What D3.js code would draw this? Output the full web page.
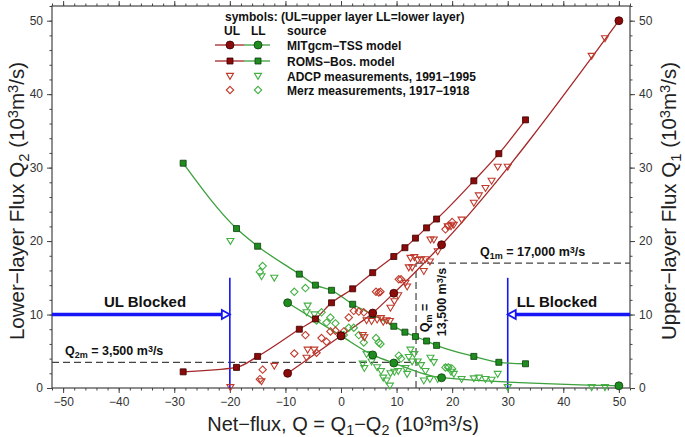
<!DOCTYPE html>
<html><head><meta charset="utf-8">
<script src="https://cdn.jsdelivr.net/npm/d3@7"></script>
<style>html,body{margin:0;padding:0;background:#fff;}svg{display:block;font-family:"Liberation Sans",Arial,Helvetica,sans-serif;}</style>
</head><body><svg id="c" width="685" height="437"></svg>
<script>
// ---------------- DATA ----------------
const xTicks = [-50,-40,-30,-20,-10,0,10,20,30,40,50];
const yTicks = [0,10,20,30,40,50];

// MITgcm-TSS model
const mitX  = [-9.6, 0.0, 5.7, 9.5, 18.1, 50.0];
const mitUL = [2.0, 7.1, 10.2, 12.9, 19.5, 50.0];
const mitLL = [11.6, 7.1, 4.5, 3.4, 1.4, 0.3];

// ROMS-Bos. model
const romsX  = [-28.4, -18.8, -15.0, -7.5, -4.6, -1.7, 2.1, 5.7, 9.5, 11.5, 13.4, 15.4, 17.2, 23.9, 28.4, 33.2];
const romsUL = [2.2, 2.8, 4.3, 8.0, 9.4, 11.6, 13.5, 15.7, 17.9, 19.1, 20.4, 21.8, 23.0, 28.2, 31.9, 36.5];
const romsLL = [30.6, 21.7, 19.3, 15.5, 14.0, 13.3, 11.4, 10.0, 8.4, 7.6, 7.0, 6.4, 5.8, 4.3, 3.5, 3.3];

// ADCP measurements, 1991-1995
const adcpX  = [-19.9,-14.3,-12.0,-6.0,-4.8,-6.2,3.9,4.2,4.6,5.5,6.5,7.6,8.2,8.8,8.9,11.6,11.9,12.2,12.8,12.5,13.2,13.8,14.4,15.2,16.0,16.1,16.7,19.2,19.8,20.3,21.7,23.9,26.0,27.1,28.2,30.0,45.1,47.5,7.2,9.6,10.3,14.9,17.4,24.8];
const adcpUL = [0.1,0.9,3.0,5.2,5.2,4.1,7.2,6.9,9.2,9.1,9.3,9.0,9.2,9.1,10.9,14.3,13.8,16.4,16.4,17.7,17.8,17.4,17.5,17.5,17.2,20.2,20.2,22.0,22.0,22.2,22.9,25.2,27.2,28.2,30.1,30.1,45.2,47.6,9.5,11.8,12.6,15.9,18.6,26.2];
const adcpLL = [20.0,15.2,15.0,11.2,10.0,10.3,3.3,2.7,4.6,3.6,2.8,1.4,1.0,0.3,2.0,2.7,1.9,4.2,3.6,5.2,4.6,3.6,3.1,2.3,1.2,4.1,3.5,2.8,2.2,1.9,1.2,1.3,1.2,1.1,1.9,0.1,0.1,0.1,2.3,2.2,2.3,1.0,1.2,1.4];

// Merz measurements, 1917-1918
const merzX  = [-14.1,-14.6,-8.4,-6.4,-4.4,-3.5,-1.9,-1.0,0.5,2.3,3.2,4.1,6.3,6.8,7.1,10.4,10.8,18.8,19.3,20.0,-2.6,1.4];
const merzUL = [2.5,1.2,4.7,7.2,4.8,6.8,7.7,7.8,7.7,10.5,10.4,10.3,13.1,13.0,13.1,14.8,14.8,21.6,22.1,22.6,6.3,9.6];
const merzLL = [16.6,15.8,13.1,13.6,9.2,10.3,9.6,8.8,7.2,8.2,7.2,6.2,6.8,6.2,6.0,4.4,4.0,2.8,2.8,2.6,8.9,8.2];

// annotation values
const q2m = 3.5, q1m = 17.0, qm = 13.5, ulBlock = -20, llBlock = 30, blockLevel = 10, blockTop = 15;

// ---------------- CHART ----------------
const W = 685, H = 437;
const m = {l:52, r:55, t:6, b:49};
const svg = d3.select("#c");
const x = d3.scaleLinear().domain([-52, 52]).range([m.l, W - m.r]);
const y = d3.scaleLinear().domain([0, 52]).range([H - m.b, m.t]);

const RED = "#8b0a0a", REDL = "#a5282a", REDO = "#c0392b";
const GRN = "#1e8c1e", GRNL = "#3ca03c", GRNO = "#44b044";
const BLUE = "#1515f5";
const AX = "#444";

function rich(sel, parts) {
  parts.forEach(p => {
    const t = sel.append("tspan").text(p[0]);
    if (p[1] === "sub") t.attr("baseline-shift", "-30%").attr("font-size", "72%");
    else if (p[1] === "sup") t.attr("baseline-shift", "38%").attr("font-size", "72%");
  });
  return sel;
}

// axes (ticks outside)
const minorX = d3.range(-52, 53, 2), minorY = d3.range(0, 53, 2);
function axis(gen, ticks, minor, label, pos) {
  const gMaj = svg.append("g").attr("transform", pos)
    .call(gen.tickValues(ticks).tickSize(5).tickSizeOuter(0).tickPadding(4).tickFormat(label ? d3.format("") : ""));
  gMaj.select(".domain").remove();
  gMaj.selectAll("line").attr("stroke", AX);
  gMaj.selectAll("text").attr("font-size", 12).attr("fill", "#333").attr("font-family", "Liberation Sans, Arial, sans-serif");
  const gMin = svg.append("g").attr("transform", pos)
    .call(gen.tickValues(minor).tickSize(2.5).tickSizeOuter(0).tickFormat(""));
  gMin.select(".domain").remove();
  gMin.selectAll("line").attr("stroke", AX);
}
axis(d3.axisBottom(x), xTicks, minorX, true, `translate(0,${H - m.b})`);
axis(d3.axisTop(x), xTicks, minorX, false, `translate(0,${m.t})`);
axis(d3.axisLeft(y), yTicks, minorY, true, `translate(${m.l},0)`);
axis(d3.axisRight(y), yTicks, minorY, true, `translate(${W - m.r},0)`);
svg.append("rect").attr("x", m.l).attr("y", m.t).attr("width", W - m.l - m.r).attr("height", H - m.t - m.b)
  .attr("fill", "none").attr("stroke", AX).attr("stroke-width", 1.2);

// axis titles
rich(svg.append("text").attr("x", (m.l + W - m.r) / 2 + 2).attr("y", 431).attr("text-anchor", "middle")
  .attr("font-size", 20).attr("fill", "#222"),
  [["Net−flux, Q = Q"], ["1","sub"], ["−Q"], ["2","sub"], [" (10"], ["3","sup"], ["m"], ["3","sup"], ["/s)"]]);
rich(svg.append("text").attr("transform", `translate(24,${(m.t + H - m.b) / 2 + 4}) rotate(-90)`).attr("text-anchor", "middle")
  .attr("font-size", 20.5).attr("fill", "#222"),
  [["Lower−layer Flux Q"], ["2","sub"], [" (10"], ["3","sup"], ["m"], ["3","sup"], ["/s)"]]);
rich(svg.append("text").attr("transform", `translate(676,${(m.t + H - m.b) / 2 + 4}) rotate(-90)`).attr("text-anchor", "middle")
  .attr("font-size", 20.5).attr("fill", "#222"),
  [["Upper−layer Flux Q"], ["1","sub"], [" (10"], ["3","sup"], ["m"], ["3","sup"], ["/s)"]]);

// annotation dashed lines
const dash = "7,4";
svg.append("line").attr("x1", x(-52)).attr("x2", x(qm)).attr("y1", y(q2m)).attr("y2", y(q2m))
  .attr("stroke", "#444").attr("stroke-width", 1.2).attr("stroke-dasharray", dash);
svg.append("line").attr("x1", x(qm)).attr("x2", x(52)).attr("y1", y(q1m)).attr("y2", y(q1m))
  .attr("stroke", "#444").attr("stroke-width", 1.2).attr("stroke-dasharray", dash);
svg.append("line").attr("x1", x(qm)).attr("x2", x(qm)).attr("y1", y(0)).attr("y2", y(q1m))
  .attr("stroke", "#444").attr("stroke-width", 1.2).attr("stroke-dasharray", dash);

// blocked arrows
function block(xv, dir, label, lx) {
  svg.append("line").attr("x1", x(xv)).attr("x2", x(xv)).attr("y1", y(0)).attr("y2", y(blockTop))
    .attr("stroke", BLUE).attr("stroke-width", 1.6);
  const x0 = dir > 0 ? x(-52) : x(52);
  const tip = x(xv);
  svg.append("line").attr("x1", x0).attr("x2", tip - dir * 6).attr("y1", y(blockLevel)).attr("y2", y(blockLevel))
    .attr("stroke", BLUE).attr("stroke-width", 3.5);
  const yy = y(blockLevel);
  svg.append("path").attr("d", `M${tip},${yy} L${tip - dir * 8},${yy - 4.5} L${tip - dir * 8},${yy + 4.5} Z`)
    .attr("fill", "#fff").attr("stroke", BLUE).attr("stroke-width", 1.8);
  svg.append("text").attr("x", lx).attr("y", 307).attr("font-size", 15).attr("font-weight", "bold")
    .attr("fill", "#111").attr("text-anchor", "middle").text(label);
}
block(ulBlock, 1, "UL Blocked", 145);
block(llBlock, -1, "LL Blocked", 557);

// annotation texts
rich(svg.append("text").attr("x", 65).attr("y", 355).attr("font-size", 12.5).attr("font-weight", "bold").attr("fill", "#111"),
  [["Q"], ["2m","sub"], [" = 3,500 m"], ["3","sup"], ["/s"]]);
rich(svg.append("text").attr("x", 480).attr("y", 256).attr("font-size", 12.5).attr("font-weight", "bold").attr("fill", "#111"),
  [["Q"], ["1m","sub"], [" = 17,000 m"], ["3","sup"], ["/s"]]);
rich(svg.append("text").attr("transform", `translate(429,318) rotate(-90)`).attr("text-anchor", "middle")
  .attr("font-size", 12.5).attr("font-weight", "bold").attr("fill", "#111"),
  [["Q"], ["m","sub"], [" ="]]);
rich(svg.append("text").attr("transform", `translate(446,302) rotate(-90)`).attr("text-anchor", "middle")
  .attr("font-size", 12.5).attr("font-weight", "bold").attr("fill", "#111"),
  [["13,500 m"], ["3","sup"], ["/s"]]);

// model lines
const line = d3.line().x(d => x(d[0])).y(d => y(d[1])).curve(d3.curveMonotoneX);
const zip = (a, b) => a.map((v, i) => [v, b[i]]);
svg.append("path").attr("d", line(zip(romsX, romsLL))).attr("fill", "none").attr("stroke", GRNL).attr("stroke-width", 1.3);
svg.append("path").attr("d", line(zip(mitX, mitLL))).attr("fill", "none").attr("stroke", GRNL).attr("stroke-width", 1.3);
svg.append("path").attr("d", line(zip(romsX, romsUL))).attr("fill", "none").attr("stroke", REDL).attr("stroke-width", 1.3);
svg.append("path").attr("d", line(zip(mitX, mitUL))).attr("fill", "none").attr("stroke", REDL).attr("stroke-width", 1.3);

// marker helpers
const triPath = s => `M${-s},${-s*0.75} L${s},${-s*0.75} L0,${s*0.95} Z`;
const diaPath = s => `M0,${-s} L${s},0 L0,${s} L${-s},0 Z`;
function pts(xs, ys, pathStr, color, fill, sw) {
  svg.append("g").selectAll("path").data(zip(xs, ys)).join("path")
    .attr("transform", d => `translate(${x(d[0])},${y(d[1])})`)
    .attr("d", pathStr).attr("fill", fill).attr("stroke", color).attr("stroke-width", sw);
}
// measurements
pts(merzX, merzLL, diaPath(3.7), GRNO, "none", 1.1);
pts(merzX, merzUL, diaPath(3.7), REDO, "none", 1.1);
pts(adcpX, adcpLL, triPath(3.5), GRNO, "none", 1.1);
pts(adcpX, adcpUL, triPath(3.5), REDO, "none", 1.1);
// models
const sq = s => `M${-s},${-s} H${s} V${s} H${-s} Z`;
pts(romsX, romsLL, sq(3), "#0d3d0d", GRN, 0.8);
pts(romsX, romsUL, sq(3), "#3a0000", RED, 0.8);
function circ(xs, ys, fill, st) {
  svg.append("g").selectAll("circle").data(zip(xs, ys)).join("circle")
    .attr("cx", d => x(d[0])).attr("cy", d => y(d[1])).attr("r", 4)
    .attr("fill", fill).attr("stroke", st).attr("stroke-width", 0.8);
}
circ(mitX, mitLL, GRN, "#0d3d0d");
circ(mitX, mitUL, RED, "#3a0000");

// legend
const lg = svg.append("g").attr("font-weight", "bold").attr("font-size", 12).attr("fill", "#111");
lg.append("text").attr("x", 225).attr("y", 21).text("symbols: (UL=upper layer LL=lower layer)");
lg.append("text").attr("x", 224).attr("y", 35).text("UL");
lg.append("text").attr("x", 251).attr("y", 35).text("LL");
lg.append("text").attr("x", 287).attr("y", 35).text("source");
const rowsY = [45, 61, 76, 90];
const rowLabels = ["MITgcm−TSS model", "ROMS−Bos. model", "ADCP measurements, 1991−1995", "Merz measurements, 1917−1918"];
const ux = 230, lx = 258;
[0, 1].forEach(i => {
  lg.append("line").attr("x1", 215).attr("x2", 244).attr("y1", rowsY[i]).attr("y2", rowsY[i]).attr("stroke", REDL).attr("stroke-width", 1.3);
  lg.append("line").attr("x1", 244).attr("x2", 270).attr("y1", rowsY[i]).attr("y2", rowsY[i]).attr("stroke", GRNL).attr("stroke-width", 1.3);
});
lg.append("circle").attr("cx", ux).attr("cy", rowsY[0]).attr("r", 4).attr("fill", RED).attr("stroke", "#3a0000").attr("stroke-width", 0.8);
lg.append("circle").attr("cx", lx).attr("cy", rowsY[0]).attr("r", 4).attr("fill", GRN).attr("stroke", "#0d3d0d").attr("stroke-width", 0.8);
lg.append("path").attr("transform", `translate(${ux},${rowsY[1]})`).attr("d", sq(3)).attr("fill", RED).attr("stroke", "#3a0000").attr("stroke-width", 0.8);
lg.append("path").attr("transform", `translate(${lx},${rowsY[1]})`).attr("d", sq(3)).attr("fill", GRN).attr("stroke", "#0d3d0d").attr("stroke-width", 0.8);
lg.append("path").attr("transform", `translate(${ux},${rowsY[2]})`).attr("d", triPath(3.5)).attr("fill", "none").attr("stroke", REDO).attr("stroke-width", 1.1);
lg.append("path").attr("transform", `translate(${lx},${rowsY[2]})`).attr("d", triPath(3.5)).attr("fill", "none").attr("stroke", GRNO).attr("stroke-width", 1.1);
lg.append("path").attr("transform", `translate(${ux},${rowsY[3]})`).attr("d", diaPath(3.7)).attr("fill", "none").attr("stroke", REDO).attr("stroke-width", 1.1);
lg.append("path").attr("transform", `translate(${lx},${rowsY[3]})`).attr("d", diaPath(3.7)).attr("fill", "none").attr("stroke", GRNO).attr("stroke-width", 1.1);
rowLabels.forEach((t, i) => lg.append("text").attr("x", 287).attr("y", rowsY[i] + 4.5).text(t));
</script></body></html>
